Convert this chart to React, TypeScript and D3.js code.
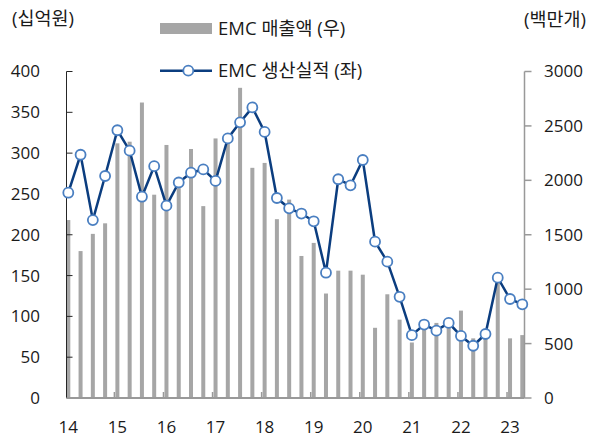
import React from "react";
import * as d3 from "d3";

const quarters = [
  "14Q1","14Q2","14Q3","14Q4","15Q1","15Q2","15Q3","15Q4",
  "16Q1","16Q2","16Q3","16Q4","17Q1","17Q2","17Q3","17Q4",
  "18Q1","18Q2","18Q3","18Q4","19Q1","19Q2","19Q3","19Q4",
  "20Q1","20Q2","20Q3","20Q4","21Q1","21Q2","21Q3","21Q4",
  "22Q1","22Q2","22Q3","22Q4","23Q1","23Q2",
];

// EMC 매출액 (우) — right axis
const salesRight = [
  1635, 1350, 1508, 1605, 2340, 2355, 2715, 1868,
  2325, 1928, 2288, 1763, 2385, 2363, 2850, 2115,
  2160, 1643, 1823, 1305, 1425, 960, 1170, 1170,
  1133, 645, 953, 720, 510, 638, 690, 660,
  803, 548, 548, 1073, 548, 578,
];

// EMC 생산실적 (좌) — left axis
const productionLeft = [
  251.5, 298, 218, 272, 328, 303, 246.6, 284,
  235.6, 264, 276, 280, 266, 318, 337.7, 356,
  326, 245, 232.4, 226, 216.5, 153.5, 268, 260.5,
  291.6, 191.5, 167, 124, 77, 90, 82.5, 92,
  76, 64, 78.4, 147.4, 121.3, 114.8,
];

const yearLabels = ["14","15","16","17","18","19","20","21","22","23"];
const yearQuarters = ["14Q1","15Q1","16Q1","17Q1","18Q1","19Q1","20Q1","21Q1","22Q1","23Q1"];
const leftTicks = [0, 50, 100, 150, 200, 250, 300, 350, 400];
const rightTicks = [0, 500, 1000, 1500, 2000, 2500, 3000];

const FONT = "'Open Sans', 'Noto Sans CJK KR', sans-serif";

export default function App() {
  const W = 595, H = 439;
  const x = d3.scalePoint<string>().domain(quarters).range([68.3, 522.3]);
  const yL = d3.scaleLinear().domain([0, 400]).range([398, 71.5]);
  const yR = d3.scaleLinear().domain([0, 3000]).range([398, 71.5]);
  const axL = 66.5, axR = 524.5;
  const barW = 4;

  const line = d3
    .line<number>()
    .x((_, i) => x(quarters[i]) as number)
    .y((d) => yL(d));

  return (
    <svg
      width={W}
      height={H}
      style={{ position: "absolute", left: 0, top: 0, background: "#fff" }}
      fontFamily={FONT}
    >
      {/* bars */}
      {salesRight.map((v, i) => (
        <rect
          key={i}
          x={(x(quarters[i]) as number) - barW / 2}
          y={yR(v)}
          width={barW}
          height={yR(0) - yR(v)}
          fill="#a6a6a6"
        />
      ))}

      {/* left axis */}
      <line x1={axL} x2={axL} y1={yL(400)} y2={yL(0)} stroke="#262626" strokeWidth={1} />
      {leftTicks.map((t) => (
        <g key={t}>
          <line x1={axL} x2={axL + 6} y1={yL(t)} y2={yL(t)} stroke="#262626" strokeWidth={1} />
          <text x={40} y={yL(t)} dy="0.35em" textAnchor="end" fontSize={17} fill="#1a1a1a">
            {t}
          </text>
        </g>
      ))}

      {/* right axis */}
      <line x1={axR} x2={axR} y1={yR(3000)} y2={yR(0)} stroke="#999" strokeWidth={1.5} />
      {rightTicks.map((t) => (
        <g key={t}>
          <line x1={axR} x2={axR + 7} y1={yR(t)} y2={yR(t)} stroke="#999" strokeWidth={1.5} />
          <text x={544} y={yR(t)} dy="0.35em" textAnchor="start" fontSize={17} fill="#1a1a1a">
            {t}
          </text>
        </g>
      ))}

      {/* bottom axis */}
      <line x1={axL} x2={axR} y1={398} y2={398} stroke="#999" strokeWidth={2} />
      {yearQuarters.map((q, i) => (
        <g key={q}>
          {i > 0 && (
            <line
              x1={(x(q) as number) - 3}
              x2={(x(q) as number) - 3}
              y1={398}
              y2={392}
              stroke="#999"
              strokeWidth={1.5}
            />
          )}
          <text x={x(q) as number} y={427} dy="0.35em" textAnchor="middle" fontSize={17} fill="#1a1a1a">
            {yearLabels[i]}
          </text>
        </g>
      ))}

      {/* line */}
      <path d={line(productionLeft) || ""} fill="none" stroke="#0b3d7f" strokeWidth={2.5} />
      {productionLeft.map((v, i) => (
        <circle
          key={i}
          cx={x(quarters[i]) as number}
          cy={yL(v)}
          r={5}
          fill="#fff"
          stroke="#4a7fc1"
          strokeWidth={1.8}
        />
      ))}

      {/* unit labels */}
      <text x={12} y={19} dy="0.35em" fontSize={18.5} fill="#1a1a1a">(십억원)</text>
      <text x={586} y={20} dy="0.35em" textAnchor="end" fontSize={18.5} fill="#1a1a1a">(백만개)</text>

      {/* legend */}
      <rect x={160} y={23} width={52} height={11} fill="#a6a6a6" />
      <text x={218} y={29} dy="0.35em" fontSize={18.5} fill="#1a1a1a">EMC 매출액 (우)</text>
      <line x1={160} x2={212} y1={70.7} y2={70.7} stroke="#0b3d7f" strokeWidth={2.5} />
      <circle cx={188.3} cy={70.7} r={5} fill="#fff" stroke="#4a7fc1" strokeWidth={1.8} />
      <text x={218} y={71} dy="0.35em" fontSize={18.5} fill="#1a1a1a">EMC 생산실적 (좌)</text>
    </svg>
  );
}
